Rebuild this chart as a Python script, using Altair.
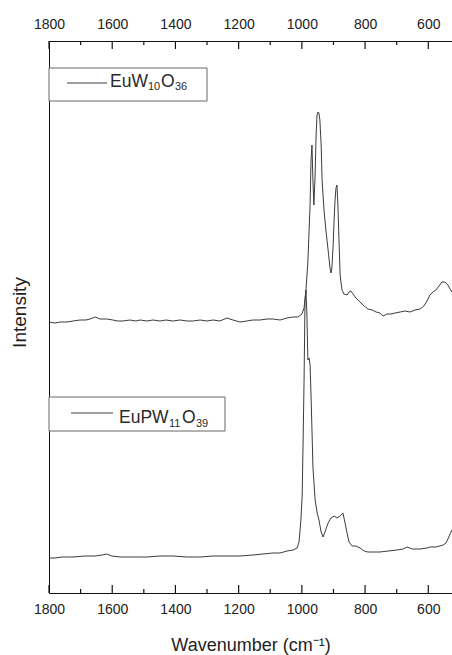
import altair as alt
import pandas as pd

# Upper spectrum: EuW10O36
wn_top = [1800, 1781, 1765, 1743, 1724, 1702, 1683, 1670, 1654, 1639, 1617, 1598, 1582, 1566,
          1544, 1525, 1512, 1490, 1471, 1449, 1430, 1408, 1386, 1363, 1344, 1322, 1300, 1281,
          1259, 1237, 1218, 1196, 1174, 1155, 1132, 1110, 1091, 1069, 1047, 1028, 1012, 1000,
          993, 987, 981, 974, 971, 968, 965, 962, 958, 955, 952, 949, 946, 943, 939, 936, 930,
          924, 917, 911, 908, 905, 901, 898, 895, 892, 889, 886, 882, 879, 873, 867, 857, 851,
          845, 838, 829, 816, 803, 791, 778, 765, 753, 743, 731, 718, 705, 689, 674, 658, 642,
          626, 614, 604, 595, 585, 576, 566, 557, 547, 538, 531, 525]
int_top = [271, 270, 271, 271, 272, 273, 273, 274, 276, 274, 274, 273, 272, 272,
           273, 272, 273, 272, 273, 272, 273, 272, 273, 272, 272, 273, 272, 273,
           272, 275, 273, 271, 272, 273, 273, 274, 274, 273, 275, 276, 276, 279,
           285, 303, 331, 388, 433, 448, 413, 388, 418, 458, 478, 481, 480, 473, 448, 413, 383,
           363, 343, 325, 320, 325, 348, 373, 393, 405, 408, 388, 348, 318, 303, 299, 298, 301,
           302, 299, 295, 291, 287, 284, 283, 281, 280, 277, 279, 279, 280, 281, 282, 281, 283,
           284, 287, 292, 298, 301, 303, 307, 311, 311, 308, 304, 301]

# Lower spectrum: EuPW11O39
wn_bot = [1800, 1781, 1759, 1724, 1686, 1654, 1632, 1617, 1601, 1575, 1534, 1490, 1449, 1408,
          1363, 1322, 1281, 1237, 1196, 1155, 1123, 1091, 1069, 1047, 1028, 1015, 1009, 1003,
          999, 996, 993, 990, 987, 984, 981, 977, 974, 971, 968, 965, 958, 952, 946, 939, 933,
          927, 917, 908, 898, 889, 879, 870, 864, 857, 851, 841, 829, 816, 803, 791, 772, 753,
          727, 699, 680, 667, 651, 626, 604, 595, 576, 553, 544, 538, 531, 525]
int_bot = [35, 35, 36, 36, 37, 37, 38, 39, 37, 36, 36, 36, 37, 37,
           36, 36, 37, 37, 37, 38, 39, 40, 40, 42, 43, 45, 51, 73,
           98, 153, 213, 293, 303, 278, 233, 235, 228, 198, 163, 126, 93, 81, 73, 61, 56,
           61, 70, 75, 77, 75, 77, 80, 71, 60, 51, 47, 47, 45, 42, 41, 41, 41,
           42, 43, 44, 46, 44, 44, 45, 46, 46, 48, 50, 54, 59, 63]

major_ticks = [1800, 1600, 1400, 1200, 1000, 800, 600]
minor_ticks = [1700, 1500, 1300, 1100, 900, 700]

W, H = 403, 552
YMAX = 552
FONT = "Liberation Sans"
AX = "#111"

df = pd.concat([
    pd.DataFrame({"wn": wn_top, "I": int_top, "s": "EuW10O36"}),
    pd.DataFrame({"wn": wn_bot, "I": int_bot, "s": "EuPW11O39"}),
])

xscale = alt.Scale(domain=[1800, 525], nice=False, zero=False)
yscale = alt.Scale(domain=[0, YMAX], nice=False, zero=False)

lines = alt.Chart(df).mark_line(color="#3c3c3c", strokeWidth=1).encode(
    x=alt.X("wn:Q", scale=xscale,
            axis=alt.Axis(orient="bottom", values=major_ticks, ticks=False, tickSize=0,
                          grid=False, labelPadding=9, labelFontSize=14, labelFont=FONT,
                          labelColor="#222", domainColor=AX, labelFlush=False,
                          title="Wavenumber (cm⁻¹)", titleFont=FONT, titleFontSize=18,
                          titleFontWeight="normal", titleColor="#222",
                          titleBaseline="alphabetic", titleY=57, format="d")),
    y=alt.Y("I:Q", scale=yscale,
            axis=alt.Axis(orient="left", labels=False, ticks=False, tickSize=0, grid=False,
                          domainColor=AX, title="Intensity", titleFont=FONT,
                          titleFontSize=19, titleFontWeight="normal", titleColor="#222",
                          titleAngle=270, titleBaseline="alphabetic", titleAlign="center",
                          titleX=-24, titleY=271)),
    detail="s:N",
)

maj_df = pd.DataFrame({"t": major_ticks})
min_df = pd.DataFrame({"t": minor_ticks})

# inward ticks on top and bottom frame lines
top_major = alt.Chart(maj_df).mark_rule(color=AX, strokeWidth=1.2).encode(
    x=alt.X("t:Q", scale=xscale,
            axis=alt.Axis(orient="top", values=major_ticks, ticks=False, tickSize=0,
                          grid=False, labelPadding=10, labelFontSize=14, labelFont=FONT,
                          labelColor="#222", domainColor=AX, labelFlush=False,
                          title=None, format="d")),
    y=alt.value(0), y2=alt.value(8),
)
bot_major = alt.Chart(maj_df).mark_rule(color=AX, strokeWidth=1.2).encode(
    x=alt.X("t:Q", scale=xscale, axis=None),
    y=alt.value(H - 8), y2=alt.value(H),
)
top_minor = alt.Chart(min_df).mark_rule(color=AX, strokeWidth=1.2).encode(
    x=alt.X("t:Q", scale=xscale, axis=None),
    y=alt.value(0), y2=alt.value(4),
)
bot_minor = alt.Chart(min_df).mark_rule(color=AX, strokeWidth=1.2).encode(
    x=alt.X("t:Q", scale=xscale, axis=None),
    y=alt.value(H - 4), y2=alt.value(H),
)

one = pd.DataFrame({"a": [0]})


def legend(x0, x1, y0, y1, lx0, lx1, ly, pieces):
    layers = [
        alt.Chart(one).mark_rect(fill="white", stroke="#666", strokeWidth=1).encode(
            x=alt.value(x0), x2=alt.value(x1), y=alt.value(y0), y2=alt.value(y1)),
        alt.Chart(one).mark_rule(color="#3c3c3c", strokeWidth=1).encode(
            x=alt.value(lx0), x2=alt.value(lx1), y=alt.value(ly)),
    ]
    for txt, tx, ty, fs in pieces:
        layers.append(
            alt.Chart(one).mark_text(align="left", baseline="alphabetic", font=FONT,
                                     fontSize=fs, color="#2a2a2a").encode(
                x=alt.value(tx), y=alt.value(ty), text=alt.value(txt)))
    return layers


leg1 = legend(0, 158, 27, 60, 18, 58, 42,
              [("EuW", 61, 46, 17.5), ("10", 99, 49, 11), ("O", 112, 46, 17.5), ("36", 126, 49, 11)])
leg2 = legend(0, 176, 356, 390, 22, 64, 372,
              [("EuPW", 70, 382, 17.5), ("11", 120, 386, 11), ("O", 133, 382, 17.5), ("39", 147, 386, 11)])

chart = alt.layer(lines, top_major, bot_major, top_minor, bot_minor,
                  *leg1, *leg2).resolve_axis(
    x="independent"
).properties(
    width=W, height=H,
    padding={"left": 49, "top": 41, "right": 0, "bottom": 62},
    autosize=alt.AutoSizeParams(type="none"),
    background="white",
).configure_view(stroke=None)

chart.save("out.html", embed_options={"renderer": "svg", "actions": False})
